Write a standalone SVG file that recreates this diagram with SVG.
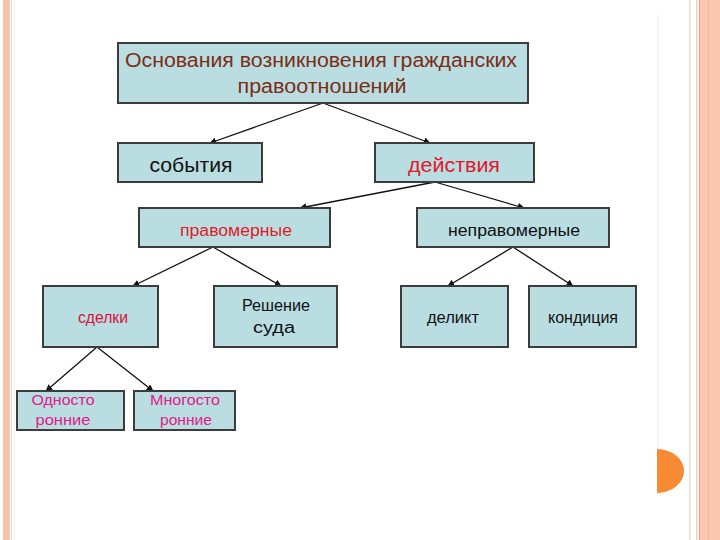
<svg xmlns="http://www.w3.org/2000/svg" width="720" height="540" viewBox="0 0 720 540">
<style>
.box{fill:#b9dde1;stroke:#3c3c3c;stroke-width:2}
.t{font-family:"Liberation Sans",Arial,sans-serif;text-anchor:middle}
.big{font-size:20px}
.mid{font-size:16px}
.sm{font-size:15px}
.edge{stroke:#111;stroke-width:1.3;fill:none;marker-end:url(#ah)}
</style>
<defs>
<marker id="ah" viewBox="0 0 10 10" refX="9" refY="5" markerWidth="7" markerHeight="7" orient="auto" markerUnits="userSpaceOnUse">
<path d="M0,0 L10,5 L0,10 z" fill="#111"/>
</marker>
</defs>
<rect width="720" height="540" fill="#ffffff"/>
<g id="background">
<rect x="3" y="0" width="7" height="540" fill="#fdc3a9"/>
<rect x="11" y="0" width="1" height="540" fill="#f6d8cb"/>
<rect x="14" y="0" width="1" height="540" fill="#f8f0dc"/>
<rect x="689" y="0" width="1.5" height="540" fill="#f2dacd"/>
<rect x="696" y="0" width="1.5" height="540" fill="#f4d2c2"/>
<rect x="699" y="0" width="1.5" height="540" fill="#f09a78"/>
<rect x="700.5" y="0" width="19.5" height="540" fill="#fdc6b0"/>
<rect x="708" y="0" width="1" height="540" fill="#f7b89e"/>
<line x1="658" y1="15" x2="658" y2="495" stroke="#efefef" stroke-width="1"/>
<path d="M657,449 A27,22 0 0 1 657,493 Z" fill="#f78a32"/>
</g>
<g id="connectors">
<line class="edge" x1="323" y1="103" x2="210" y2="143"/>
<line class="edge" x1="323" y1="103" x2="430" y2="143"/>
<line class="edge" x1="435" y1="182" x2="300" y2="208"/>
<line class="edge" x1="435" y1="182" x2="524" y2="208"/>
<line class="edge" x1="213" y1="247" x2="133" y2="286"/>
<line class="edge" x1="213" y1="247" x2="281" y2="286"/>
<line class="edge" x1="513" y1="247" x2="448" y2="286"/>
<line class="edge" x1="513" y1="247" x2="573" y2="286"/>
<line class="edge" x1="97" y1="347" x2="46" y2="391"/>
<line class="edge" x1="97" y1="347" x2="153" y2="391"/>
</g>
<g id="root">
<rect class="box" x="118" y="43" width="410" height="60"/>
<text class="t big" x="321" y="67" fill="#7a2e14" textLength="392" lengthAdjust="spacingAndGlyphs">Основания возникновения гражданских</text>
<text class="t big" x="322" y="93" fill="#7a2e14" textLength="169" lengthAdjust="spacingAndGlyphs">правоотношений</text>
</g>
<g id="sobytiya">
<rect class="box" x="118" y="143" width="144" height="39"/>
<text class="t big" x="191" y="172" fill="#111" textLength="83" lengthAdjust="spacingAndGlyphs">события</text>
</g>
<g id="deystviya">
<rect class="box" x="375" y="143" width="159" height="39"/>
<text class="t big" x="454" y="172" fill="#e3172b" textLength="92" lengthAdjust="spacingAndGlyphs">действия</text>
</g>
<g id="pravomernye">
<rect class="box" x="139" y="208" width="191" height="39"/>
<text class="t mid" x="236" y="236" fill="#e01e26" textLength="112" lengthAdjust="spacingAndGlyphs">правомерные</text>
</g>
<g id="nepravomernye">
<rect class="box" x="417" y="208" width="192" height="39"/>
<text class="t mid" x="514" y="236" fill="#111" textLength="132" lengthAdjust="spacingAndGlyphs">неправомерные</text>
</g>
<g id="sdelki">
<rect class="box" x="43" y="286" width="115" height="61"/>
<text class="t mid" x="103" y="323" fill="#d7143c" textLength="50" lengthAdjust="spacingAndGlyphs">сделки</text>
</g>
<g id="reshenie">
<rect class="box" x="214" y="286" width="123" height="61"/>
<text class="t mid" x="276" y="311" fill="#111" textLength="68" lengthAdjust="spacingAndGlyphs">Решение</text>
<text class="t mid" x="274" y="333" fill="#111" textLength="42" lengthAdjust="spacingAndGlyphs">суда</text>
</g>
<g id="delikt">
<rect class="box" x="401" y="286" width="107" height="61"/>
<text class="t mid" x="453" y="323" fill="#111" textLength="52" lengthAdjust="spacingAndGlyphs">деликт</text>
</g>
<g id="kondiciya">
<rect class="box" x="529" y="286" width="107" height="61"/>
<text class="t mid" x="583" y="323" fill="#111" textLength="70" lengthAdjust="spacingAndGlyphs">кондиция</text>
</g>
<g id="odnostoronnie">
<rect class="box" x="17" y="391" width="107" height="39"/>
<text class="t sm" x="63" y="405" fill="#e0208a" textLength="63" lengthAdjust="spacingAndGlyphs">Односто</text>
<text class="t sm" x="63" y="425" fill="#e0208a" textLength="55" lengthAdjust="spacingAndGlyphs">ронние</text>
</g>
<g id="mnogostoronnie">
<rect class="box" x="134" y="391" width="101" height="39"/>
<text class="t sm" x="185" y="405" fill="#e0208a" textLength="70" lengthAdjust="spacingAndGlyphs">Многосто</text>
<text class="t sm" x="186" y="425" fill="#e0208a" textLength="52" lengthAdjust="spacingAndGlyphs">ронние</text>
</g>
</svg>
